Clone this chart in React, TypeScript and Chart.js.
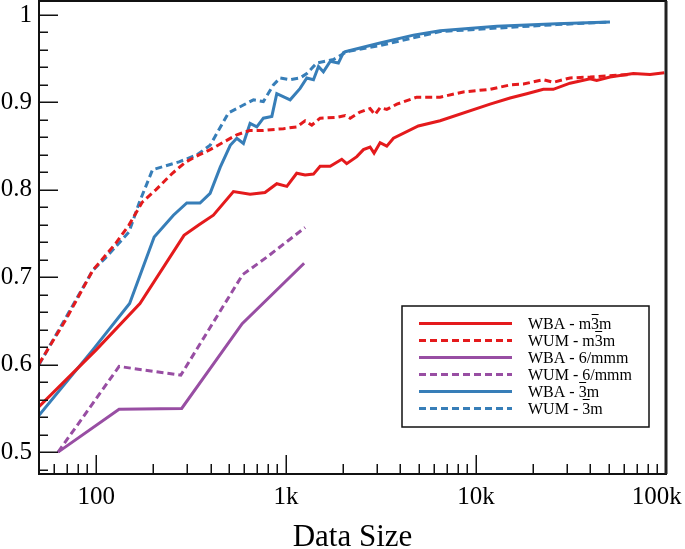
import React, { useEffect, useRef } from 'react';
import { Chart, registerables } from 'chart.js';

Chart.register(...registerables);

const FONT = '"Liberation Serif", "Times New Roman", serif';
const RED = '#e41a1c';
const PURPLE = '#984ea3';
const BLUE = '#377eb8';

const xTickValues = [100, 1000, 10000, 100000];
const xTickLabels = ['100', '1k', '10k', '100k\u2002 '];
const yTickValues = [0.5, 0.6, 0.7, 0.8, 0.9, 1.0];
const yTickLabels = ['0.5', '0.6', '0.7', '0.8', '0.9', '1'];

const seriesLabels = [
  'WBA - m3\u0305m',
  'WUM - m3\u0305m',
  'WBA - 6/mmm',
  'WUM - 6/mmm',
  'WBA - 3\u0305m',
  'WUM - 3\u0305m',
];

// WBA - m-3m (red solid)
const wbaM3mX = [50, 100, 170, 290, 348, 414, 528, 646, 774, 893, 1009, 1137, 1259, 1393, 1510, 1706, 1963, 2084, 2356, 2553, 2767, 2904, 3124, 3388, 3673, 4966, 6466, 11850, 15100, 18490, 22610, 25500, 31240, 39850, 43180, 50700, 67300, 82400, 98000];
const wbaM3mY = [0.552, 0.617, 0.670, 0.748, 0.760, 0.771, 0.798, 0.795, 0.797, 0.807, 0.804, 0.819, 0.817, 0.818, 0.827, 0.827, 0.835, 0.830, 0.838, 0.846, 0.849, 0.842, 0.854, 0.850, 0.859, 0.873, 0.879, 0.898, 0.905, 0.910, 0.915, 0.915, 0.922, 0.927, 0.925, 0.929, 0.933, 0.932, 0.934];

// WUM - m-3m (red dashed)
const wumM3mX = [50, 69, 96, 127, 149, 175, 206, 252, 297, 348, 398, 550, 646, 759, 968, 1137, 1259, 1365, 1510, 1849, 2046, 2173, 2449, 2767, 2938, 3124, 3388, 3830, 4870, 6466, 8570, 11850, 15100, 17750, 22610, 25500, 31240, 39850, 55000, 65000];
const wumM3mY = [0.601, 0.651, 0.708, 0.739, 0.760, 0.786, 0.800, 0.819, 0.832, 0.840, 0.846, 0.863, 0.868, 0.868, 0.870, 0.872, 0.879, 0.874, 0.882, 0.883, 0.885, 0.882, 0.889, 0.893, 0.886, 0.894, 0.892, 0.898, 0.906, 0.906, 0.912, 0.915, 0.920, 0.921, 0.926, 0.923, 0.928, 0.929, 0.931, 0.932];

// WBA - 6/mmm (purple solid)
const wba6mX = [63, 132, 282, 587, 1244];
const wba6mY = [0.500, 0.549, 0.550, 0.647, 0.716];

// WUM - 6/mmm (purple dashed)
const wum6mX = [63, 132, 279, 590, 791, 1259];
const wum6mY = [0.500, 0.598, 0.588, 0.703, 0.723, 0.757];

// WBA - -3m (blue solid)
const wba3mX = [50, 96, 150, 202, 255, 300, 352, 398, 450, 508, 550, 596, 646, 701, 759, 841, 893, 1050, 1185, 1285, 1393, 1480, 1571, 1706, 1884, 2003, 2046, 3124, 4677, 6466, 12850, 26540, 50700];
const wba3mY = [0.542, 0.617, 0.670, 0.746, 0.771, 0.785, 0.785, 0.796, 0.826, 0.851, 0.859, 0.853, 0.876, 0.872, 0.882, 0.884, 0.910, 0.903, 0.916, 0.928, 0.926, 0.941, 0.935, 0.947, 0.945, 0.957, 0.958, 0.968, 0.977, 0.982, 0.987, 0.990, 0.992];

// WUM - -3m (blue dashed)
const wum3mX = [50, 96, 112, 149, 169, 198, 273, 339, 398, 497, 596, 673, 759, 857, 929, 1050, 1185, 1285, 1449, 1775, 2084, 3124, 6466, 12850, 26540, 50700];
const wum3mY = [0.600, 0.708, 0.722, 0.752, 0.786, 0.823, 0.832, 0.840, 0.851, 0.888, 0.897, 0.903, 0.901, 0.920, 0.928, 0.926, 0.928, 0.933, 0.945, 0.949, 0.958, 0.965, 0.981, 0.985, 0.989, 0.992];

const toPoints = (xs: number[], ys: number[]) => xs.map((x, i) => ({ x, y: ys[i] }));

const yMinorTicks: number[] = [];
for (let k = 24; k <= 50; k++) yMinorTicks.push(k / 50);
const xMinorTicks: number[] = [];
for (const d of [10, 100, 1000, 10000]) {
  for (let m = 2; m <= 9; m++) {
    const v = m * d;
    if (v > 50 && v < 100000) xMinorTicks.push(v);
  }
}

const framePlugin = {
  id: 'frameTicks',
  afterDraw(chart: any) {
    const { ctx, chartArea: a, scales } = chart;
    const xs = scales.x;
    const ys = scales.y;
    ctx.save();
    ctx.strokeStyle = '#111';
    ctx.lineWidth = 1.5;
    ctx.beginPath();
    for (const v of yMinorTicks) {
      const py = Math.round(ys.getPixelForValue(v)) + 0.25;
      const len = yTickValues.some((t) => Math.abs(t - v) < 1e-9) ? 19 : 9;
      ctx.moveTo(a.left, py);
      ctx.lineTo(a.left + len, py);
    }
    for (const v of xMinorTicks) {
      const px = Math.round(xs.getPixelForValue(v)) + 0.25;
      ctx.moveTo(px, a.bottom);
      ctx.lineTo(px, a.bottom - 10);
    }
    for (const v of xTickValues) {
      const px = Math.round(xs.getPixelForValue(v)) + 0.25;
      ctx.moveTo(px, a.bottom);
      ctx.lineTo(px, a.bottom - 19);
    }
    ctx.stroke();
    ctx.lineWidth = 2;
    ctx.strokeRect(a.left, a.top, a.right - a.left, a.bottom - a.top);
    ctx.lineWidth = 3;
    ctx.strokeStyle = '#222';
    ctx.beginPath();
    ctx.moveTo(a.right, a.top);
    ctx.lineTo(a.right, a.bottom);
    ctx.stroke();
    ctx.restore();
  },
};

const legendPlugin = {
  id: 'boxLegend',
  afterDraw(chart: any) {
    const ctx = chart.ctx;
    const a = chart.chartArea;
    const left = a.right - 264;
    const top = a.top + 305;
    const w = 247;
    const h = 121;
    ctx.save();
    ctx.fillStyle = '#fff';
    ctx.fillRect(left, top, w, h);
    ctx.strokeStyle = '#111';
    ctx.lineWidth = 1.5;
    ctx.strokeRect(left, top, w, h);
    ctx.font = `16px ${FONT}`;
    ctx.textBaseline = 'alphabetic';
    ctx.textAlign = 'left';
    chart.data.datasets.forEach((ds: any, i: number) => {
      const y = top + 17.5 + 17 * i;
      ctx.beginPath();
      ctx.setLineDash(ds.borderDash || []);
      ctx.lineWidth = 3;
      ctx.strokeStyle = ds.borderColor;
      ctx.moveTo(left + 17, y);
      ctx.lineTo(left + 110, y);
      ctx.stroke();
      ctx.setLineDash([]);
      const raw: string = ds.label;
      const idx = raw.indexOf('\u0305');
      const plain = raw.replace('\u0305', '');
      const tx = left + 126;
      const by = y + 5.5;
      ctx.fillStyle = '#000';
      ctx.fillText(plain, tx, by);
      if (idx > 0) {
        const pre = ctx.measureText(plain.slice(0, idx - 1)).width;
        const cw = ctx.measureText(plain[idx - 1]).width;
        ctx.beginPath();
        ctx.lineWidth = 1;
        ctx.strokeStyle = '#000';
        ctx.moveTo(tx + pre + 0.5, by - 14.5);
        ctx.lineTo(tx + pre + cw - 0.5, by - 14.5);
        ctx.stroke();
      }
    });
    ctx.restore();
  },
};

export default function App() {
  const ref = useRef<HTMLCanvasElement>(null);
  useEffect(() => {
    const mk = (i: number, xs: number[], ys: number[], color: string, dashed: boolean) => ({
      label: seriesLabels[i],
      data: toPoints(xs, ys),
      borderColor: color,
      backgroundColor: color,
      borderWidth: 3,
      borderDash: dashed ? [7, 4] : [],
      pointRadius: 0,
      tension: 0,
      fill: false,
    });
    const chart = new Chart(ref.current as HTMLCanvasElement, {
      type: 'line',
      data: {
        datasets: [
          mk(0, wbaM3mX, wbaM3mY, RED, false),
          mk(1, wumM3mX, wumM3mY, RED, true),
          mk(2, wba6mX, wba6mY, PURPLE, false),
          mk(3, wum6mX, wum6mY, PURPLE, true),
          mk(4, wba3mX, wba3mY, BLUE, false),
          mk(5, wum3mX, wum3mY, BLUE, true),
        ],
      },
      options: {
        animation: false,
        responsive: false,
        layout: { padding: { top: 1, right: 19, left: 0, bottom: 0 } },
        plugins: {
          legend: { display: false },
          tooltip: { enabled: false },
        },
        scales: {
          x: {
            type: 'logarithmic',
            min: 50,
            max: 100000,
            grid: { display: false, drawTicks: false },
            border: { display: false },
            ticks: {
              autoSkip: false,
              maxRotation: 0,
              padding: 8,
              color: '#000',
              font: { family: FONT, size: 25 },
              callback: (_v: any, i: number) => xTickLabels[i],
            },
            afterBuildTicks: (s: any) => {
              s.ticks = xTickValues.map((v) => ({ value: v }));
            },
            afterFit: (s: any) => {
              s.height = 75;
              s.paddingLeft = 0;
              s.paddingRight = 0;
            },
            title: {
              display: true,
              text: 'Data Size',
              color: '#000',
              font: { family: FONT, size: 31, lineHeight: 0.7 },
              padding: 0,
            },
          },
          y: {
            type: 'linear',
            min: 0.475,
            max: 1.016,
            grid: { display: false, drawTicks: false },
            border: { display: false },
            ticks: {
              padding: 7,
              color: '#000',
              font: { family: FONT, size: 25 },
              callback: (_v: any, i: number) => yTickLabels[i],
            },
            afterBuildTicks: (s: any) => {
              s.ticks = yTickValues.map((v) => ({ value: v }));
            },
            afterFit: (s: any) => {
              s.width = 39;
              s.paddingTop = 0;
              s.paddingBottom = 0;
            },
          },
        },
      } as any,
      plugins: [framePlugin, legendPlugin],
    });
    return () => chart.destroy();
  }, []);
  return (
    <div style={{ position: 'absolute', left: 0, top: 0, width: 685, height: 549, background: '#fff' }}>
      <canvas ref={ref} width={685} height={549} style={{ display: 'block', width: 685, height: 549 }} />
    </div>
  );
}
